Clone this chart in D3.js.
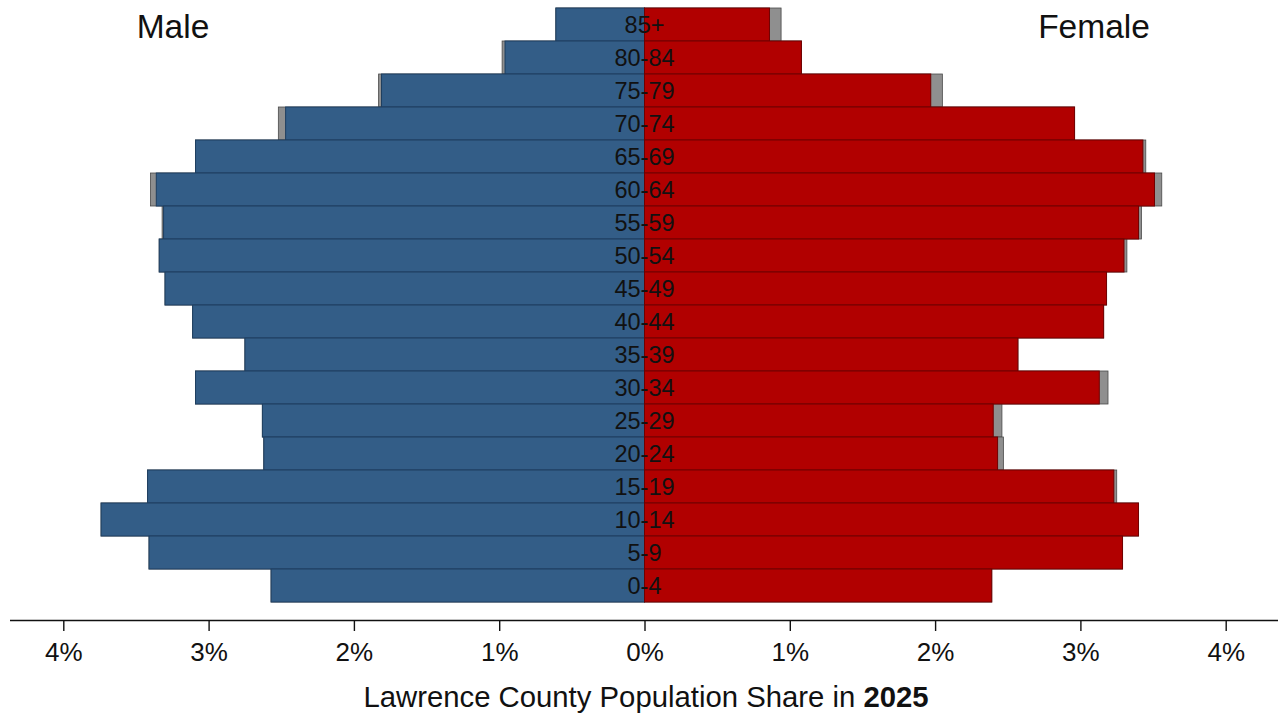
<!DOCTYPE html>
<html><head><meta charset="utf-8">
<script src="https://cdn.jsdelivr.net/npm/d3@7"></script>
<style>body{margin:0;background:#fff}svg{display:block}text{font-family:"Liberation Sans",Arial,sans-serif;fill:#111}</style>
</head><body><svg id="c" width="1281" height="717"></svg>
<script>
const ages = ["85+","80-84","75-79","70-74","65-69","60-64","55-59","50-54","45-49","40-44","35-39","30-34","25-29","20-24","15-19","10-14","5-9","0-4"];
const male2025   = [0.61,0.96,1.81,2.47,3.09,3.36,3.31,3.34,3.30,3.11,2.75,3.09,2.63,2.62,3.42,3.74,3.41,2.57];
const female2025 = [0.86,1.08,1.97,2.96,3.43,3.51,3.40,3.30,3.18,3.16,2.57,3.13,2.40,2.43,3.23,3.40,3.29,2.39];
const maleComp   = [0.61,0.98,1.83,2.52,3.09,3.40,3.32,3.34,3.30,3.11,2.75,3.09,2.63,2.62,3.42,3.74,3.41,2.57];
const femaleComp = [0.94,1.08,2.05,2.96,3.45,3.56,3.42,3.32,3.18,3.16,2.57,3.19,2.46,2.47,3.25,3.40,3.29,2.39];
const ticks = [-4,-3,-2,-1,0,1,2,3,4];

const svg = d3.select("#c");
const x = d3.scaleLinear().domain([-4,4]).range([63.3,1225.7]);
const y = d3.scaleBand().domain(ages).range([8,602]).padding(0);

const rows = ages.map((a,i)=>({a, m:male2025[i], f:female2025[i], mc:maleComp[i], fc:femaleComp[i]}));
const g = svg.append("g");
// comparison (grey) bars behind
g.selectAll(".gm").data(rows).join("rect")
  .attr("x",d=>x(-d.mc)).attr("y",d=>y(d.a)).attr("width",d=>x(0)-x(-d.mc)).attr("height",y.bandwidth())
  .attr("fill","#8f8f8f").attr("stroke","#4a4a4a").attr("stroke-width",0.8);
g.selectAll(".gf").data(rows).join("rect")
  .attr("x",x(0)).attr("y",d=>y(d.a)).attr("width",d=>x(d.fc)-x(0)).attr("height",y.bandwidth())
  .attr("fill","#8f8f8f").attr("stroke","#4a4a4a").attr("stroke-width",0.8);
// main bars
g.selectAll(".m").data(rows).join("rect")
  .attr("x",d=>x(-d.m)).attr("y",d=>y(d.a)).attr("width",d=>x(0)-x(-d.m)).attr("height",y.bandwidth())
  .attr("fill","#335d87").attr("stroke","#1f3f60").attr("stroke-width",1);
g.selectAll(".f").data(rows).join("rect")
  .attr("x",x(0)).attr("y",d=>y(d.a)).attr("width",d=>x(d.f)-x(0)).attr("height",y.bandwidth())
  .attr("fill","#b10000").attr("stroke","#700000").attr("stroke-width",1);

// age labels
g.selectAll(".lab").data(rows).join("text")
  .attr("x",x(0)).attr("y",d=>y(d.a)+y.bandwidth()/2+8.5)
  .attr("text-anchor","middle").attr("font-size",23.5).text(d=>d.a);

// axis
const axis = d3.axisBottom(x).tickValues(ticks).tickSize(11).tickPadding(12)
  .tickFormat(d=>Math.abs(d)+"%");
const ax = svg.append("g").attr("transform","translate(0,620)").call(axis);
ax.select(".domain").remove();
ax.append("line").attr("x1",10).attr("x2",1278).attr("y1",0.5).attr("y2",0.5).attr("stroke","#111").attr("stroke-width",1.6);
ax.selectAll(".tick line").attr("stroke","#111").attr("stroke-width",1.4);
ax.selectAll(".tick text").attr("font-size",26).attr("fill","#111").attr("font-family","Liberation Sans, Arial, sans-serif");

// titles
svg.append("text").attr("x",173).attr("y",38).attr("text-anchor","middle").attr("font-size",33.5).text("Male");
svg.append("text").attr("x",1094).attr("y",38).attr("text-anchor","middle").attr("font-size",33.5).text("Female");
const t = svg.append("text").attr("x",646).attr("y",707).attr("text-anchor","middle").attr("font-size",29.3);
t.append("tspan").text("Lawrence County Population Share in ");
t.append("tspan").attr("font-weight","bold").text("2025");
</script></body></html>
